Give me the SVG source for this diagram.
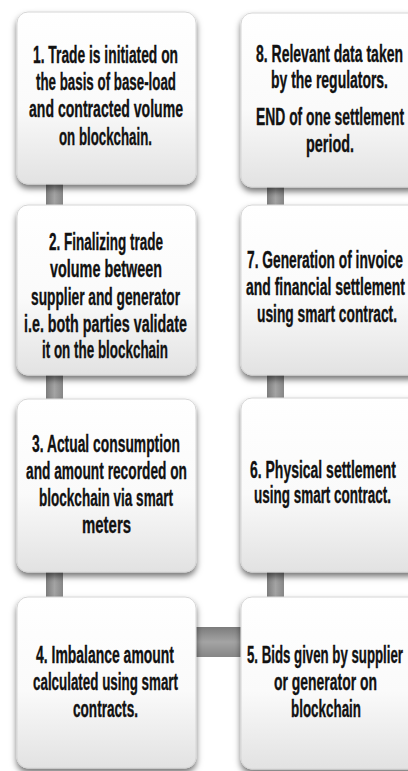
<svg xmlns="http://www.w3.org/2000/svg" width="408" height="771" viewBox="0 0 408 771">
<style>
.box{fill:url(#bg);stroke:#d6d6d6;stroke-width:1;filter:url(#sh)}
.t{font-family:"Liberation Sans","DejaVu Sans",sans-serif;font-weight:bold;font-size:23.5px;fill:#111;stroke:#111;stroke-width:0.35;text-anchor:start}
.bar{fill:url(#vb)}
.hbar{fill:url(#hb)}
</style>
<defs>
<linearGradient id="bg" x1="0" y1="0" x2="0" y2="1">
<stop offset="0" stop-color="#ffffff"/>
<stop offset="0.55" stop-color="#fafafa"/>
<stop offset="1" stop-color="#e2e2e2"/>
</linearGradient>
<linearGradient id="vb" x1="0" y1="0" x2="1" y2="0">
<stop offset="0" stop-color="#7c7c7c"/>
<stop offset="0.5" stop-color="#a4a4a4"/>
<stop offset="1" stop-color="#868686"/>
</linearGradient>
<linearGradient id="hb" x1="0" y1="0" x2="0" y2="1">
<stop offset="0" stop-color="#7c7c7c"/>
<stop offset="0.5" stop-color="#a4a4a4"/>
<stop offset="1" stop-color="#868686"/>
</linearGradient>
<filter id="sh" x="-10%" y="-10%" width="120%" height="125%">
<feDropShadow dx="0" dy="4" stdDeviation="3" flood-color="#000" flood-opacity="0.55"/>
</filter>
</defs>
<g id="connectors">
<rect class="bar" x="46" y="170" width="17" height="45"/>
<rect class="bar" x="46" y="365" width="17" height="45"/>
<rect class="bar" x="46" y="560" width="17" height="45"/>
<rect class="bar" x="267" y="170" width="17" height="45"/>
<rect class="bar" x="267" y="365" width="17" height="45"/>
<rect class="bar" x="267" y="560" width="17" height="45"/>
<rect class="hbar" x="185" y="627" width="66" height="30"/>
</g>
<g id="n1">
<rect class="box" x="17" y="12" width="179" height="172" rx="11"/>
<text class="t"><tspan x="33" y="63" textLength="145" lengthAdjust="spacingAndGlyphs">1. Trade is initiated on</tspan><tspan x="36" y="90" textLength="140" lengthAdjust="spacingAndGlyphs">the basis of base-load</tspan><tspan x="29" y="117" textLength="154" lengthAdjust="spacingAndGlyphs">and contracted volume</tspan><tspan x="59" y="145" textLength="93" lengthAdjust="spacingAndGlyphs">on blockchain.</tspan></text>
</g>
<g id="n2">
<rect class="box" x="17" y="205" width="179" height="170" rx="11"/>
<text class="t"><tspan x="49" y="250" textLength="114" lengthAdjust="spacingAndGlyphs">2. Finalizing trade</tspan><tspan x="50" y="277" textLength="112" lengthAdjust="spacingAndGlyphs">volume between</tspan><tspan x="31" y="305" textLength="149" lengthAdjust="spacingAndGlyphs">supplier and generator</tspan><tspan x="24" y="332" textLength="163" lengthAdjust="spacingAndGlyphs">i.e. both parties validate</tspan><tspan x="42" y="358" textLength="126" lengthAdjust="spacingAndGlyphs">it on the blockchain</tspan></text>
</g>
<g id="n3">
<rect class="box" x="17" y="399" width="179" height="173" rx="11"/>
<text class="t"><tspan x="32" y="452" textLength="148" lengthAdjust="spacingAndGlyphs">3. Actual consumption</tspan><tspan x="26" y="479" textLength="161" lengthAdjust="spacingAndGlyphs">and amount recorded on</tspan><tspan x="39" y="506" textLength="134" lengthAdjust="spacingAndGlyphs">blockchain via smart</tspan><tspan x="82" y="533" textLength="49" lengthAdjust="spacingAndGlyphs">meters</tspan></text>
</g>
<g id="n4">
<rect class="box" x="17" y="597" width="179" height="171" rx="11"/>
<text class="t"><tspan x="36" y="663" textLength="138" lengthAdjust="spacingAndGlyphs">4. Imbalance amount</tspan><tspan x="33" y="690" textLength="145" lengthAdjust="spacingAndGlyphs">calculated using smart</tspan><tspan x="73" y="717" textLength="65" lengthAdjust="spacingAndGlyphs">contracts.</tspan></text>
</g>
<g id="n5">
<rect class="box" x="241" y="597" width="180" height="172" rx="11"/>
<text class="t"><tspan x="247" y="663" textLength="156" lengthAdjust="spacingAndGlyphs">5. Bids given by supplier</tspan><tspan x="274" y="690" textLength="103" lengthAdjust="spacingAndGlyphs">or generator on</tspan><tspan x="291" y="717" textLength="70" lengthAdjust="spacingAndGlyphs">blockchain</tspan></text>
</g>
<g id="n6">
<rect class="box" x="241" y="398" width="180" height="174" rx="11"/>
<text class="t"><tspan x="250" y="478" textLength="146" lengthAdjust="spacingAndGlyphs">6. Physical settlement</tspan><tspan x="254" y="503" textLength="137" lengthAdjust="spacingAndGlyphs">using smart contract.</tspan></text>
</g>
<g id="n7">
<rect class="box" x="241" y="205" width="180" height="170" rx="11"/>
<text class="t"><tspan x="247" y="268" textLength="156" lengthAdjust="spacingAndGlyphs">7. Generation of invoice</tspan><tspan x="246" y="295" textLength="159" lengthAdjust="spacingAndGlyphs">and financial settlement</tspan><tspan x="257" y="322" textLength="140" lengthAdjust="spacingAndGlyphs">using smart contract.</tspan></text>
</g>
<g id="n8">
<rect class="box" x="241" y="13" width="180" height="174" rx="11"/>
<text class="t"><tspan x="256" y="62" textLength="147" lengthAdjust="spacingAndGlyphs">8. Relevant data taken</tspan><tspan x="271" y="88" textLength="117" lengthAdjust="spacingAndGlyphs">by the regulators.</tspan><tspan x="256" y="125" textLength="148" lengthAdjust="spacingAndGlyphs">END of one settlement</tspan><tspan x="306" y="152" textLength="48" lengthAdjust="spacingAndGlyphs">period.</tspan></text>
</g>
</svg>
